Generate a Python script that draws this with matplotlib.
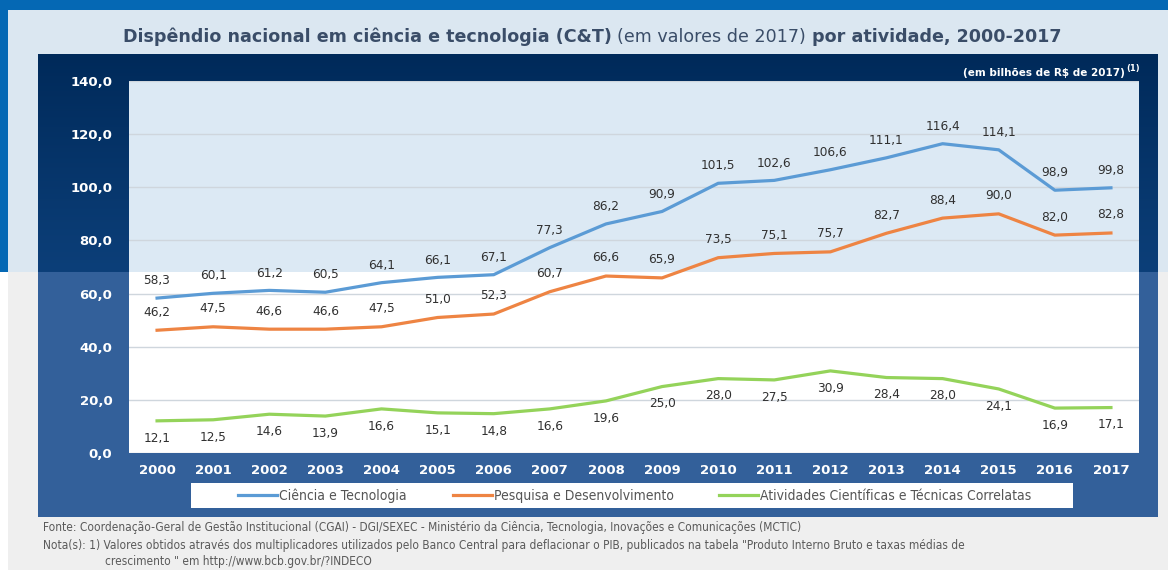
import numpy as np
import matplotlib
matplotlib.use("Agg")
import matplotlib.pyplot as plt
from matplotlib.patches import Rectangle
from matplotlib.lines import Line2D

# ============================================================
# Data
# ============================================================

years = [str(y) for y in range(2000, 2018)]

ciencia_tecnologia = [58.3, 60.1, 61.2, 60.5, 64.1, 66.1, 67.1, 77.3, 86.2,
                      90.9, 101.5, 102.6, 106.6, 111.1, 116.4, 114.1, 98.9, 99.8]
pesquisa_desenv = [46.2, 47.5, 46.6, 46.6, 47.5, 51.0, 52.3, 60.7, 66.6,
                   65.9, 73.5, 75.1, 75.7, 82.7, 88.4, 90.0, 82.0, 82.8]
atividades_correlatas = [12.1, 12.5, 14.6, 13.9, 16.6, 15.1, 14.8, 16.6, 19.6,
                         25.0, 28.0, 27.5, 30.9, 28.4, 28.0, 24.1, 16.9, 17.1]

series_names = ["Ciência e Tecnologia", "Pesquisa e Desenvolvimento",
                "Atividades Científicas e Técnicas Correlatas"]

y_ticks = [0, 20, 40, 60, 80, 100, 120, 140]

# ============================================================
# Layout (pixel units)
# ============================================================

W, H = 1168, 571
SPLIT = 272

fig = plt.figure(figsize=(W / 100, H / 100), dpi=100)
fig.patch.set_facecolor("white")

bg = fig.add_axes([0, 0, 1, 1], zorder=0)
bg.set_xlim(0, W)
bg.set_ylim(H, 0)
bg.axis("off")


def rect(x0, y0, x1, y1, color, z=1):
    bg.add_patch(Rectangle((x0, y0), x1 - x0, y1 - y0, color=color, lw=0, zorder=z))


# page background
rect(0, 0, W, SPLIT, "#dbe7f1")
rect(8, SPLIT, W, 570, "#efefef")
rect(0, 0, W, 10, "#0568b4")
rect(0, 0, 8, SPLIT, "#0568b4")

# dark panel (top part has a gradient)
grad = np.linspace(0, 1, 100).reshape(-1, 1)
top_cmap = matplotlib.colors.LinearSegmentedColormap.from_list("p", ["#002a5a", "#0c3f79"])
bg.imshow(grad, cmap=top_cmap, extent=(38, 1158, SPLIT, 54), aspect="auto", zorder=1)
rect(38, SPLIT, 1158, 517, "#33609a")

# plot area background
PX0, PX1, PY0, PY1 = 129, 1139, 81, 453
rect(PX0, PY0, PX1, SPLIT, "#dce9f4", 2)
rect(PX0, SPLIT, PX1, PY1, "white", 2)

# legend box
rect(191, 483, 1073, 508, "white", 2)

# ============================================================
# Chart
# ============================================================

ax = fig.add_axes([PX0 / W, 1 - PY1 / H, (PX1 - PX0) / W, (PY1 - PY0) / H], zorder=2)
ax.patch.set_alpha(0)

x = np.arange(len(years))
colors = ["#5b9bd5", "#ee8443", "#94d35a"]
offsets = [12.5, 13, -12.5]
all_series = [ciencia_tecnologia, pesquisa_desenv, atividades_correlatas]

for vals, color, off in zip(all_series, colors, offsets):
    ax.plot(x, vals, color=color, lw=2.3, solid_joinstyle="round", zorder=3)
    for xi, v in zip(x, vals):
        ax.annotate(f"{v:.1f}".replace(".", ","), (xi, v), xytext=(0, off),
                    textcoords="offset points", ha="center", va="center",
                    fontsize=8.7, color="#303030")

ax.set_xlim(-0.5, len(years) - 0.5)
ax.set_ylim(0, 140)
ax.set_yticks(y_ticks)
ax.set_yticklabels([f"{t:.1f}".replace(".", ",") for t in y_ticks])
ax.set_xticks(x)
ax.set_xticklabels(years)
ax.tick_params(axis="y", length=0, pad=12, labelsize=9.5, labelcolor="white")
ax.tick_params(axis="x", length=0, pad=8, labelsize=9.5, labelcolor="white")
for lab in ax.get_xticklabels() + ax.get_yticklabels():
    lab.set_fontweight("bold")
ax.grid(axis="y", color="#cfd6dd", lw=1)
ax.set_axisbelow(True)
for s in ax.spines.values():
    s.set_visible(False)

# legend
handles = [Line2D([], [], color=c, lw=2.3) for c in colors]
leg = ax.legend(handles, series_names, ncol=3, loc="center",
                bbox_to_anchor=((635 - PX0) / (PX1 - PX0), (PY1 - 495.5) / (PY1 - PY0)),
                frameon=False, handlelength=2.8, handletextpad=0.15, columnspacing=3.3,
                borderaxespad=0, borderpad=0, prop={"size": 10, "stretch": "condensed"})
for t in leg.get_texts():
    t.set_color("#555555")

# ============================================================
# Texts
# ============================================================

title_color = "#3a4d68"
t1 = bg.text(123, 37, "Dispêndio nacional em ciência e tecnologia (C&T)", fontsize=12.6,
             fontweight="bold", color=title_color, ha="left", va="center")
t2 = bg.annotate("(em valores de 2017)", xy=(1, 0), xycoords=t1, xytext=(4, 0),
                 textcoords="offset points", fontsize=12.6, color=title_color, va="bottom")
bg.annotate("por atividade, 2000-2017", xy=(1, 0), xycoords=t2, xytext=(4, 0),
            textcoords="offset points", fontsize=12.6, fontweight="bold",
            color=title_color, va="bottom")

bg.text(1125, 73, "(em bilhões de R$ de 2017)", fontsize=7.5, fontweight="bold",
        color="white", ha="right", va="center")
bg.text(1126, 68, "(1)", fontsize=6, fontweight="bold", color="white", ha="left", va="center")

foot = dict(fontsize=8.55, fontstretch="condensed", color="#5a5a5a", va="center")
bg.text(43, 527, "Fonte: Coordenação-Geral de Gestão Institucional (CGAI) - DGI/SEXEC - "
        "Ministério da Ciência, Tecnologia, Inovações e Comunicações (MCTIC)", **foot)
bg.text(43, 545, "Nota(s): 1) Valores obtidos através dos multiplicadores utilizados pelo "
        "Banco Central para deflacionar o PIB, publicados na tabela \"Produto Interno Bruto "
        "e taxas médias de", **foot)
bg.text(105, 561, "crescimento \" em http://www.bcb.gov.br/?INDECO", **foot)

fig.savefig("out.png", dpi=100)
